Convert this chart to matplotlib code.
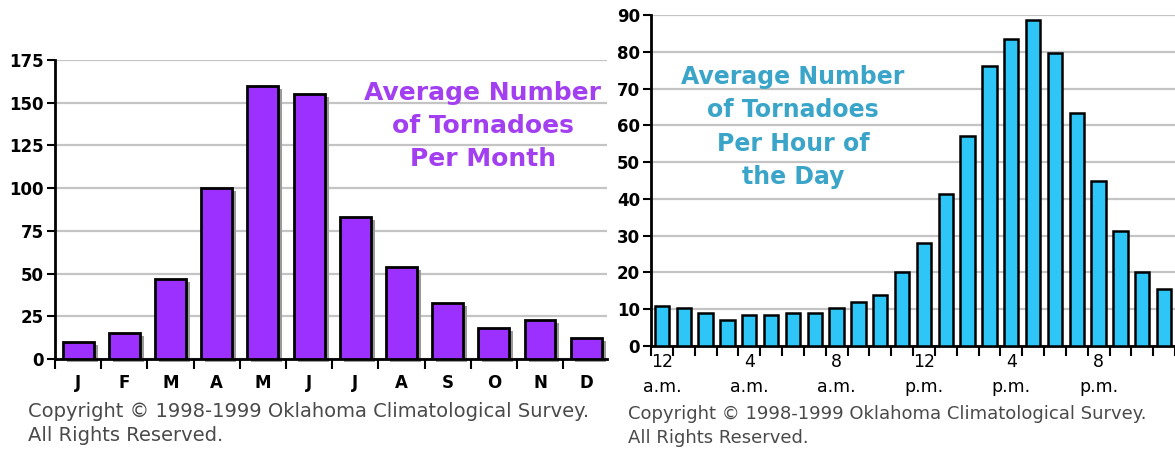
"""
Oklahoma Climatological Survey tornado charts: average number of tornadoes
per month (left) and per hour of the day (right).

Writes out.png (1175x449).
"""

import matplotlib

matplotlib.use("Agg")
import matplotlib.pyplot as plt
import matplotlib.transforms as mtransforms
import numpy as np

# ── colours ──────────────────────────────────────────────────────────
PURPLE = "#9b30ff"
PURPLE_TXT = "#a23ff0"
CYAN = "#2ec6f6"
CYAN_TXT = "#3aa5c9"
SHADOW = "#9a9a9a"
GRID = "#c4c4c4"
COPY = "#4a4a4a"

plt.rcParams.update({
    "font.family": "DejaVu Sans",
    "axes.linewidth": 2.0,
})

# ── data ─────────────────────────────────────────────────────────────
MONTHS = ["J", "F", "M", "A", "M", "J", "J", "A", "S", "O", "N", "D"]
MONTH_COUNTS = [10, 15, 47, 100, 160, 155, 83, 54, 33, 18, 23, 12]
MONTH_YTICKS = [0, 25, 50, 75, 100, 125, 150, 175]

HOURS = list(range(24))
HOUR_COUNTS = [10.8, 10.3, 9.0, 7.1, 8.3, 8.3, 9.0, 9.0, 10.3, 12.0, 13.8, 20.0,
               28.0, 41.2, 57.0, 76.0, 83.4, 88.7, 79.8, 63.4, 45.0, 31.2, 20.0, 15.6]
HOUR_YTICKS = [0, 10, 20, 30, 40, 50, 60, 70, 80, 90]
HOUR_LABEL_POS = [0, 4, 8, 12, 16, 20]
HOUR_LABELS = ["12\na.m.", "4\na.m.", "8\na.m.", "12\np.m.", "4\np.m.", "8\np.m."]

COPYRIGHT = "Copyright \u00a9 1998-1999 Oklahoma Climatological Survey.\nAll Rights Reserved."

W, H = 1175, 449
fig = plt.figure(figsize=(W / 100, H / 100), dpi=100)
fig.patch.set_facecolor("white")


def _px(x0, y_top, x1, y_bot):
    """axes rect from pixel box (top-left origin)"""
    return [x0 / W, 1 - y_bot / H, (x1 - x0) / W, (y_bot - y_top) / H]


def _style(ax, yticks):
    for s in ("top", "right"):
        ax.spines[s].set_visible(False)
    ax.set_yticks(yticks)
    ax.yaxis.grid(True, color=GRID, linewidth=1.6)
    ax.set_axisbelow(True)
    ax.tick_params(axis="y", length=6, width=1.5, direction="out",
                   labelsize=12, pad=2)
    for lab in ax.get_yticklabels():
        lab.set_fontweight("bold")
    ax.set_facecolor("white")


# ── left: per month ──────────────────────────────────────────────────
ax1 = fig.add_axes(_px(55, 60, 607, 359))
x = np.arange(len(MONTHS))
shadow = mtransforms.offset_copy(ax1.transData, fig=fig, x=4, y=-3, units="dots")
ax1.bar(x, MONTH_COUNTS, width=0.67, color=SHADOW, edgecolor="none",
        transform=shadow, zorder=2, clip_on=False)
ax1.bar(x, MONTH_COUNTS, width=0.67, color=PURPLE, edgecolor="black",
        linewidth=2, zorder=3)
ax1.set_xlim(-0.5, 11.45)
ax1.set_ylim(0, 175)
_style(ax1, MONTH_YTICKS)
ax1.set_xticks(x)
ax1.set_xticklabels(MONTHS, fontsize=12, fontweight="bold")
ax1.tick_params(axis="x", which="major", length=0, pad=11)
ax1.set_xticks(np.arange(-0.5, 11.5, 1), minor=True)
ax1.tick_params(axis="x", which="minor", length=7, width=1.5, direction="out")

fig.text(483, H - 126, "Average Number\nof Tornadoes\nPer Month",
         transform=None, ha="center", va="center", multialignment="center",
         fontsize=18, fontweight="bold", color=PURPLE_TXT, linespacing=1.45)
fig.text(28 / W, 1 - 423.5 / H, COPYRIGHT, ha="left", va="center",
         fontsize=14, color=COPY, linespacing=1.3)

# ── right: per hour ──────────────────────────────────────────────────
ax2 = fig.add_axes(_px(651, 15, 1175, 346))
ax2.bar(HOURS, HOUR_COUNTS, width=0.65, color=CYAN, edgecolor="black",
        linewidth=1.8, zorder=3)
ax2.set_xlim(-0.5, 23.34)
ax2.set_ylim(0, 90)
_style(ax2, HOUR_YTICKS)
ax2.set_xticks(HOUR_LABEL_POS)
ax2.set_xticklabels(HOUR_LABELS, fontsize=12.5, linespacing=1.5)
ax2.tick_params(axis="x", which="major", length=0, pad=5)
ax2.set_xticks(np.arange(-0.5, 24, 1), minor=True)
ax2.tick_params(axis="x", which="minor", length=7, width=1.5, direction="out")

fig.text(793, H - 127, "Average Number\nof Tornadoes\nPer Hour of\nthe Day",
         transform=None, ha="center", va="center", multialignment="center",
         fontsize=17, fontweight="bold", color=CYAN_TXT, linespacing=1.5)
fig.text(628 / W, 1 - 426 / H, COPYRIGHT, ha="left", va="center",
         fontsize=13, color=COPY, linespacing=1.45)

fig.savefig("out.png", dpi=100, facecolor="white")
